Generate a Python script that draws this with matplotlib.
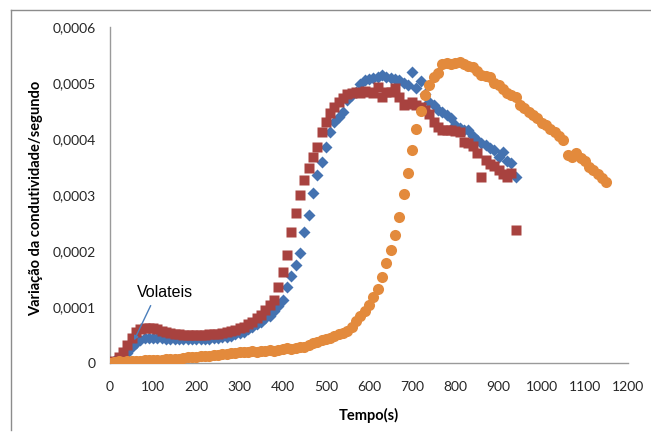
import matplotlib
matplotlib.use("Agg")
import matplotlib.pyplot as plt
from matplotlib.ticker import FuncFormatter
from matplotlib.lines import Line2D
import numpy as np

plt.rcParams['font.family'] = ['Lato', 'DejaVu Sans']

# tempos (s) das series azul e vermelha
tempo_ab = [0, 10, 20, 30, 40, 50, 60, 70, 80, 90,
            100, 110, 120, 130, 140, 150, 160, 170, 180, 190,
            200, 210, 220, 230, 240, 250, 260, 270, 280, 290,
            300, 310, 320, 330, 340, 350, 360, 370, 380, 390,
            400, 410, 420, 430, 440, 450, 460, 470, 480, 490,
            500, 510, 520, 530, 540, 550, 560, 570, 580, 590,
            600, 610, 620, 630, 640, 650, 660, 670, 680, 690,
            700, 710, 720, 730, 740, 750, 760, 770, 780, 790,
            800, 810, 820, 830, 840, 850, 860, 870, 880, 890,
            900, 910, 920, 930, 940]

# valores em unidades de 1e-4
azul = [0, 0.03, 0.07, 0.12, 0.18, 0.28, 0.36, 0.41, 0.44, 0.45,
        0.45, 0.44, 0.44, 0.43, 0.43, 0.42, 0.42, 0.42, 0.42, 0.42,
        0.42, 0.43, 0.43, 0.43, 0.44, 0.45, 0.46, 0.47, 0.49, 0.51,
        0.53, 0.56, 0.60, 0.64, 0.69, 0.74, 0.80, 0.84, 0.93, 1.02,
        1.13, 1.36, 1.55, 1.75, 1.96, 2.34, 2.64, 3.04, 3.36, 3.59,
        3.86, 4.12, 4.30, 4.40, 4.48, 4.70, 4.78, 4.84, 4.98, 5.05,
        5.08, 5.09, 5.10, 5.14, 5.10, 5.09, 5.07, 5.05, 5.00, 4.97,
        5.20, 4.91, 5.04, 4.80, 4.66, 4.60, 4.52, 4.48, 4.43, 4.38,
        4.25, 4.20, 4.16, 4.16, 4.05, 3.98, 3.93, 3.90, 3.84, 3.80,
        3.68, 3.77, 3.60, 3.57, 3.32]

vermelho = [0, 0.03, 0.10, 0.20, 0.32, 0.45, 0.55, 0.60, 0.62, 0.63,
            0.62, 0.60, 0.57, 0.55, 0.53, 0.52, 0.51, 0.50, 0.50, 0.50,
            0.50, 0.50, 0.50, 0.51, 0.51, 0.52, 0.53, 0.55, 0.57, 0.59,
            0.62, 0.65, 0.69, 0.74, 0.80, 0.86, 0.94, 1.03, 1.13, 1.36,
            1.62, 1.93, 2.34, 2.68, 3.00, 3.27, 3.48, 3.68, 3.86, 4.12,
            4.30, 4.46, 4.57, 4.66, 4.73, 4.80, 4.82, 4.84, 4.83, 4.85,
            4.84, 4.83, 4.93, 4.75, 4.84, 4.84, 4.91, 4.75, 4.60, 4.62,
            4.66, 4.60, 4.57, 4.52, 4.45, 4.30, 4.22, 4.16, 4.16, 4.16,
            4.14, 4.12, 3.95, 3.93, 3.88, 3.75, 3.32, 3.62, 3.56, 3.52,
            3.45, 3.38, 3.32, 3.39, 2.375]

tempo_lar = [0, 10, 20, 30, 40, 50, 60, 70, 80, 90,
             100, 110, 120, 130, 140, 150, 160, 170, 180, 190,
             200, 210, 220, 230, 240, 250, 260, 270, 280, 290,
             300, 310, 320, 330, 340, 350, 360, 370, 380, 390,
             400, 410, 420, 430, 440, 450, 460, 470, 480, 490,
             500, 510, 520, 530, 540, 550, 560, 570, 580, 590,
             600, 610, 620, 630, 640, 650, 660, 670, 680, 690,
             700, 710, 720, 730, 740, 750, 760, 770, 780, 790,
             800, 810, 820, 830, 840, 850, 860, 870, 880, 890,
             900, 910, 920, 930, 940, 950, 960, 970, 980, 990,
             1000, 1010, 1020, 1030, 1040, 1050, 1060, 1070, 1080, 1090,
             1100, 1110, 1120, 1130, 1140, 1150]

laranja = [0, 0.02, 0.03, 0.02, 0.03, 0.03, 0.04, 0.04, 0.05, 0.05,
           0.05, 0.06, 0.06, 0.07, 0.07, 0.08, 0.08, 0.09, 0.10, 0.10,
           0.11, 0.12, 0.12, 0.13, 0.14, 0.15, 0.16, 0.16, 0.17, 0.18,
           0.19, 0.19, 0.20, 0.21, 0.20, 0.21, 0.22, 0.23, 0.22, 0.24,
           0.25, 0.26, 0.25, 0.27, 0.28, 0.29, 0.32, 0.35, 0.38, 0.41,
           0.43, 0.45, 0.48, 0.51, 0.54, 0.58, 0.64, 0.75, 0.84, 0.93,
           1.03, 1.17, 1.33, 1.54, 1.79, 2.01, 2.28, 2.60, 3.02, 3.40,
           3.80, 4.18, 4.50, 4.78, 4.96, 5.10, 5.17, 5.34, 5.36, 5.34,
           5.36, 5.38, 5.34, 5.30, 5.28, 5.22, 5.14, 5.12, 5.10, 5.00,
           4.96, 4.90, 4.82, 4.78, 4.75, 4.60, 4.55, 4.48, 4.42, 4.38,
           4.28, 4.25, 4.18, 4.12, 4.06, 3.98, 3.71, 3.68, 3.75, 3.66,
           3.60, 3.50, 3.44, 3.38, 3.30, 3.23]

xticks = [0, 100, 200, 300, 400, 500, 600, 700, 800, 900, 1000, 1100, 1200]
yticks = [0, 0.0001, 0.0002, 0.0003, 0.0004, 0.0005, 0.0006]

fig = plt.figure(figsize=(6.51, 4.34), dpi=100)
ax = fig.add_axes([110 / 651, 1 - 363 / 434, 518 / 651, 336 / 434])

ax.plot(tempo_ab, np.array(azul) * 1e-4, 'D', color='#4472B0', ms=6.2, mec='none', zorder=3)
ax.plot(tempo_ab, np.array(vermelho) * 1e-4, 's', color='#A8423F', ms=7, mec='none', zorder=4)
ax.plot(tempo_lar, np.array(laranja) * 1e-4, 'o', color='#E38A3C', ms=8, mec='none', zorder=5)

ax.set_xlim(0, 1200)
ax.set_ylim(0, 0.0006)
ax.set_xticks(xticks)
ax.set_yticks(yticks)
ax.yaxis.set_major_formatter(FuncFormatter(lambda v, p: '0' if v == 0 else ('%.4f' % v).replace('.', ',')))
ax.tick_params(length=0, labelsize=10, colors='#262626')
ax.tick_params(axis='x', pad=13)
ax.tick_params(axis='y', pad=10)

for s in ['top', 'right']:
    ax.spines[s].set_visible(False)
for s in ['left', 'bottom']:
    ax.spines[s].set_color('#9a9a9a')
    ax.spines[s].set_linewidth(1)

ax.set_xlabel('Tempo(s)', fontsize=10.5, fontweight='bold')
ax.set_ylabel('Variação da condutividade/segundo', fontsize=10.5, fontweight='bold')
ax.xaxis.set_label_coords(0.5, -0.135)
ax.yaxis.set_label_coords(-0.13, 0.49)

# anotacao
ax.annotate('', xy=(53, 0.000036), xytext=(97, 0.000107),
            arrowprops=dict(arrowstyle='-|>', color='#4A7EBB', lw=1, mutation_scale=6), zorder=6)
ax.text(62, 0.000113, 'Volateis', fontsize=11.5, family=['Liberation Sans', 'DejaVu Sans'],
        ha='left', va='bottom', zorder=6)

# moldura
fig.add_artist(Line2D([11 / 651, 11 / 651], [1 - 430 / 434, 1 - 10 / 434], color='#8c8c8c', lw=1))
fig.add_artist(Line2D([11 / 651, 1], [1 - 10 / 434, 1 - 10 / 434], color='#8c8c8c', lw=1))

fig.savefig('out.png', dpi=100)
